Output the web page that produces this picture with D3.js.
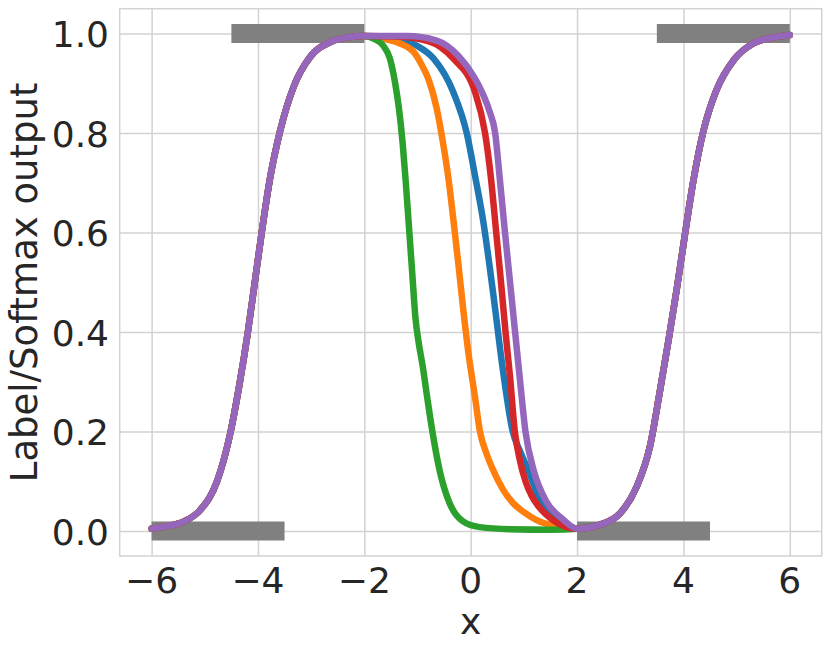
<!DOCTYPE html>
<html>
<head>
<meta charset="utf-8">
<script src="https://cdn.jsdelivr.net/npm/d3@7/dist/d3.min.js"></script>
<style>
  html, body { margin: 0; padding: 0; background: #ffffff; }
  svg { display: block; }
  text { font-family: "DejaVu Sans", sans-serif; fill: #262626; }
</style>
</head>
<body>
<svg id="chart" width="831" height="652"></svg>
<script>
// ---------------- data ----------------
const xTicks = [-6, -4, -2, 0, 2, 4, 6];
const yTicks = [0.0, 0.2, 0.4, 0.6, 0.8, 1.0];

// target labels (grey bars): [x start, x end, label]
const labelStart = [-6.0, -4.5, 2.0, 3.5];
const labelEnd   = [-3.5, -2.0, 4.5, 6.0];
const labelValue = [0, 1, 0, 1];

// shared left part (all curves overlap)
const leftX = [-6.0, -5.7, -5.4, -5.09, -4.77, -4.52, -4.34, -4.19, -4.06, -3.93, -3.78, -3.58, -3.33, -3.02, -2.64, -2.27, -2.0];
const leftY = [0.005, 0.010, 0.019, 0.042, 0.100, 0.197, 0.300, 0.400, 0.500, 0.600, 0.705, 0.806, 0.893, 0.953, 0.983, 0.993, 0.995];

// shared right part (all curves overlap)
const rightX = [2.0, 2.49, 2.81, 3.12, 3.37, 3.56, 3.73, 3.88, 4.02, 4.18, 4.38, 4.62, 4.94, 5.31, 5.69, 6.0];
const rightY = [0.005, 0.015, 0.036, 0.089, 0.170, 0.283, 0.390, 0.490, 0.590, 0.700, 0.806, 0.886, 0.946, 0.980, 0.992, 0.997];

// middle parts, per series
const blueX   = [-1.6, -1.33, -1.02, -0.70, -0.33, -0.075, 0.08, 0.24, 0.42, 0.61, 0.79, 0.93, 1.08, 1.33, 1.55, 1.80];
const blueY   = [0.994, 0.990, 0.976, 0.950, 0.883, 0.800, 0.715, 0.620, 0.480, 0.320, 0.200, 0.160, 0.123, 0.056, 0.028, 0.012];

const orangeX = [-1.8, -1.33, -1.05, -0.92, -0.80, -0.64, -0.52, -0.42, -0.33, -0.23, -0.14, -0.045, 0.08, 0.175, 0.30, 0.42, 0.60, 0.80, 1.00, 1.24, 1.60];
const orangeY = [0.992, 0.980, 0.960, 0.937, 0.910, 0.850, 0.780, 0.710, 0.630, 0.535, 0.445, 0.360, 0.270, 0.200, 0.155, 0.123, 0.085, 0.056, 0.038, 0.022, 0.010];

const greenX  = [-1.83, -1.64, -1.52, -1.42, -1.35, -1.28, -1.22, -1.16, -1.10, -1.04, -0.98, -0.90, -0.82, -0.72, -0.58, -0.40, -0.15, 0.17, 0.74, 1.50];
const greenY  = [0.990, 0.975, 0.950, 0.900, 0.850, 0.780, 0.700, 0.610, 0.520, 0.430, 0.380, 0.330, 0.270, 0.200, 0.120, 0.057, 0.020, 0.008, 0.004, 0.003];

const redX    = [-1.4, -0.8, -0.33, 0.08, 0.27, 0.38, 0.48, 0.57, 0.655, 0.74, 0.83, 0.93, 1.03, 1.15, 1.26, 1.55, 1.80];
const redY    = [0.994, 0.985, 0.950, 0.883, 0.800, 0.710, 0.600, 0.500, 0.400, 0.310, 0.200, 0.140, 0.100, 0.070, 0.052, 0.022, 0.008];

const purpleX = [-1.2, -0.64, -0.23, 0.05, 0.21, 0.35, 0.46, 0.55, 0.645, 0.74, 0.835, 0.93, 1.03, 1.19, 1.42, 1.72];
const purpleY = [0.995, 0.986, 0.955, 0.915, 0.883, 0.845, 0.800, 0.705, 0.600, 0.500, 0.400, 0.300, 0.200, 0.120, 0.060, 0.025];

const seriesNames  = ["blue", "orange", "green", "red", "purple"];
const seriesColors = ["#1f77b4", "#ff7f0e", "#2ca02c", "#d62728", "#9467bd"];
const seriesMidX   = [blueX, orangeX, greenX, redX, purpleX];
const seriesMidY   = [blueY, orangeY, greenY, redY, purpleY];

// ---------------- chart ----------------
const plot = { left: 119.7, right: 821.7, top: 8.7, bottom: 556 };

const x = d3.scaleLinear().domain([-6.6, 6.6]).range([plot.left, plot.right]);
const y = d3.scaleLinear().domain([-0.05, 1.05]).range([plot.bottom, plot.top]);

const svg = d3.select("#chart");
const gridColor = "#d2d2d2";

// grid
const gx = svg.append("g").attr("transform", `translate(0,${plot.bottom})`)
  .call(d3.axisBottom(x).tickValues(xTicks).tickSize(-(plot.bottom - plot.top)).tickFormat(""));
const gy = svg.append("g").attr("transform", `translate(${plot.left},0)`)
  .call(d3.axisLeft(y).tickValues(yTicks).tickSize(-(plot.right - plot.left)).tickFormat(""));
[gx, gy].forEach(g => {
  g.select(".domain").remove();
  g.selectAll(".tick line").attr("stroke", gridColor).attr("stroke-width", 1.5);
});

// frame
svg.append("rect")
  .attr("x", plot.left).attr("y", plot.top)
  .attr("width", plot.right - plot.left).attr("height", plot.bottom - plot.top)
  .attr("fill", "none").attr("stroke", gridColor).attr("stroke-width", 1.5);

// tick labels
const fmtX = d => (d < 0 ? "\u2212" + Math.abs(d) : String(d));
svg.append("g").selectAll("text").data(xTicks).join("text")
  .attr("x", d => x(d)).attr("y", 593)
  .attr("text-anchor", "middle").attr("font-size", 36)
  .text(fmtX);
svg.append("g").selectAll("text").data(yTicks).join("text")
  .attr("x", 109).attr("y", d => y(d) + 13.5)
  .attr("text-anchor", "end").attr("font-size", 36)
  .text(d => d.toFixed(1));

// axis titles
svg.append("text").attr("x", (plot.left + plot.right) / 2).attr("y", 634)
  .attr("text-anchor", "middle").attr("font-size", 36).text("x");
svg.append("text")
  .attr("transform", `translate(37,${(plot.top + plot.bottom) / 2}) rotate(-90)`)
  .attr("text-anchor", "middle").attr("font-size", 37).text("Label/Softmax output");

// label bars
const labels = labelStart.map((s, i) => ({ x0: s, x1: labelEnd[i], v: labelValue[i] }));
svg.append("g").selectAll("line").data(labels).join("line")
  .attr("x1", d => x(d.x0)).attr("x2", d => x(d.x1))
  .attr("y1", d => y(d.v)).attr("y2", d => y(d.v))
  .attr("stroke", "#808080").attr("stroke-width", 19).attr("stroke-linecap", "butt");

// curves
const line = d3.line().x(d => x(d[0])).y(d => y(d[1])).curve(d3.curveMonotoneX);
seriesNames.forEach((name, i) => {
  const pts = [];
  leftX.forEach((v, j) => pts.push([v, leftY[j]]));
  seriesMidX[i].forEach((v, j) => pts.push([v, seriesMidY[i][j]]));
  rightX.forEach((v, j) => pts.push([v, rightY[j]]));
  svg.append("path").datum(pts)
    .attr("class", "series-" + name)
    .attr("d", line)
    .attr("fill", "none")
    .attr("stroke", seriesColors[i])
    .attr("stroke-width", 6.5)
    .attr("stroke-linecap", "round")
    .attr("stroke-linejoin", "round");
});
</script>
</body>
</html>
